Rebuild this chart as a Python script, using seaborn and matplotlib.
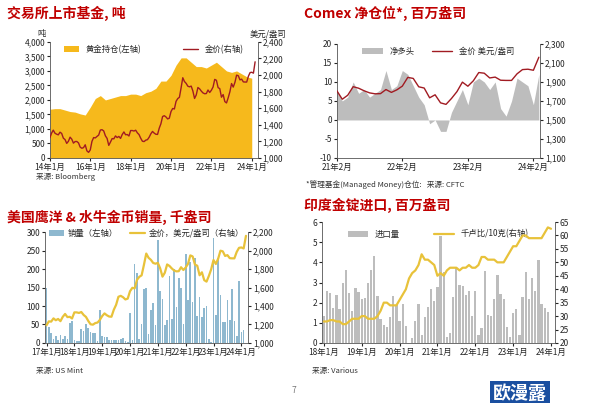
import numpy as np
import seaborn as sns
import matplotlib.pyplot as plt

sns.set_style('white')
plt.rcParams['font.family'] = ['Noto Sans CJK SC', 'DejaVu Sans']
plt.rcParams['axes.unicode_minus'] = False

RED = '#C00000'
DARKRED = '#A11B22'
GOLD = '#F6B91C'
YELLOW = '#E8C23A'
GREY = '#BDBDBD'
BLUE = '#8EB8CF'

# ---- data ----
gold_monthly = [  # 2014-01 .. 2024-03, USD/oz
    1244, 1300, 1336, 1299, 1287, 1279, 1311, 1296, 1239, 1222, 1176, 1201,
    1251, 1227, 1179, 1198, 1199, 1182, 1131, 1117, 1125, 1159, 1086, 1068,
    1097, 1200, 1246, 1242, 1260, 1276, 1337, 1341, 1326, 1267, 1236, 1152,
    1192, 1234, 1231, 1266, 1246, 1260, 1236, 1283, 1314, 1280, 1283, 1265,
    1331, 1331, 1325, 1335, 1303, 1282, 1238, 1202, 1198, 1215, 1221, 1250,
    1291, 1320, 1300, 1286, 1284, 1359, 1413, 1500, 1510, 1495, 1471, 1480,
    1560, 1597, 1591, 1683, 1716, 1732, 1846, 1968, 1922, 1900, 1866, 1858,
    1867, 1808, 1718, 1760, 1850, 1834, 1807, 1785, 1775, 1777, 1820, 1790,
    1817, 1856, 1948, 1937, 1849, 1836, 1733, 1765, 1680, 1664, 1726, 1798,
    1898, 1855, 1912, 1999, 1992, 1942, 1951, 1918, 1916, 1916, 1985, 2030,
    2034, 2023, 2160]
etf_quarterly = [  # tonnes, 2014Q1 .. 2024Q1
    1680, 1700, 1700, 1650, 1600, 1580, 1520, 1480,
    1750, 2050, 2150, 2000, 2050, 2100, 2150, 2150,
    2200, 2200, 2150, 2250, 2300, 2400, 2650, 2650,
    2850, 3200, 3450, 3450, 3300, 3150, 3150, 3100,
    3200, 3300, 3150, 3000, 2950, 3000, 2900, 2800, 2750]

comex_net_long = [  # Moz, 2021-02 .. 2024-03
    8, 5, 6, 10, 7, 8, 6, 7, 8, 13, 8,
    9, 13, 12, 9, 6, 4, -1, 0, -3, -3, 2, 5,
    8, 4, 10, 11, 10, 8, 10, 3, 1, 5, 11, 10,
    9, 4, 12]

coin_sales = [  # koz, 2017-01 .. 2024-02
    148, 42, 28, 10, 18, 8, 22, 12, 20, 12, 55, 60,
    8, 5, 5, 38, 32, 50, 40, 30, 28, 26, 5, 88,
    18, 16, 15, 8, 7, 7, 7, 8, 12, 14, 5, 2,
    80, 8, 215, 190, 12, 50, 145, 148, 25, 90, 108, 48,
    280, 140, 120, 48, 62, 180, 65, 200, 98, 175, 150, 50,
    240, 115, 220, 112, 230, 72, 125, 70, 95, 100, 10, 2,
    285, 75, 230, 130, 58, 58, 115, 62, 145, 60, 20, 168,
    30, 35]

india_imports = [  # Moz, 2018-01 .. 2023-12
    1.35, 2.6, 2.5, 1.75, 2.4, 1.7, 3.0, 3.6, 2.5, 1.6, 2.75, 2.55,
    2.2, 2.25, 3.0, 3.6, 4.3, 2.35, 1.2, 0.9, 0.8, 1.3, 2.35, 1.9,
    1.1, 1.95, 0.85, 0.02, 0.25, 1.1, 1.95, 0.4, 1.3, 1.8, 2.7, 2.1,
    2.8, 5.3, 3.5, 0.3, 0.5, 2.3, 3.75, 2.9, 2.85, 2.4, 2.6, 1.35,
    2.6, 0.4, 0.75, 3.55, 1.4, 1.35, 2.2, 3.35, 2.45, 2.2, 0.8, 0.3,
    1.5, 1.7, 0.4, 2.3, 3.5, 2.2, 3.2, 2.6, 4.1, 1.95, 1.75, 1.55]
inr_per_10g = [  # thousand INR / 10g, 2018-01 .. 2024-01
    28, 28, 28.5, 28.5, 28, 28, 27, 27, 28, 29, 29, 29,
    30, 30, 29, 29, 29, 30, 32, 35, 35, 34, 34, 34,
    36, 38, 40, 44, 46, 47, 49, 53, 51, 51, 50, 49,
    45, 46, 45, 47, 48, 48, 48, 47, 48, 48, 49, 48,
    48, 49, 52, 52, 51, 51, 51, 50, 50, 50, 52, 54,
    56, 56, 58, 60, 60, 59, 59, 59, 59, 59, 61, 63,
    62.5]

fig = plt.figure(figsize=(5.94, 4.03), dpi=100)
fig.patch.set_facecolor('white')
FS = 6


def style(ax, twin):
    for a in (ax, twin):
        for s in a.spines.values():
            s.set_visible(False)
        a.tick_params(labelsize=FS, length=2, pad=1.5)
    ax.spines['left'].set_visible(True)
    ax.spines['bottom'].set_visible(True)
    twin.spines['right'].set_visible(True)
    for s in (ax.spines['left'], ax.spines['bottom'], twin.spines['right']):
        s.set_color('#555555')
        s.set_linewidth(0.6)
    ax.tick_params(left=True, bottom=True, direction='out')
    twin.tick_params(right=True, direction='out')
    ax.set_xlabel('')
    ax.set_ylabel('')
    twin.set_xlabel('')
    twin.set_ylabel('')


def year_ticks(ax, years, fmt):
    ax.set_xticks(years)
    ax.set_xticklabels([fmt % (y % 100) for y in years])

# ---- panel 1: ETF ----
ax1 = fig.add_axes([0.084, 0.608, 0.35, 0.288])
tw1 = ax1.twinx()
xq = 2014 + np.arange(len(etf_quarterly)) / 4
ax1.fill_between(xq, etf_quarterly, color=GOLD, lw=0, label='黄金持仓(左轴)')
xm = 2014 + np.arange(len(gold_monthly)) / 12
sns.lineplot(x=xm, y=gold_monthly, ax=tw1, color=DARKRED, lw=1, label='金价(右轴)', legend=False)
ax1.set_xlim(2014, 2024.3)
ax1.set_ylim(0, 4000)
ax1.set_yticks(range(0, 4001, 500))
ax1.set_yticklabels([f'{v:,}' for v in range(0, 4001, 500)])
tw1.set_ylim(1000, 2400)
tw1.set_yticks(range(1000, 2401, 200))
tw1.set_yticklabels([f'{v:,}' for v in range(1000, 2401, 200)])
year_ticks(ax1, [2014, 2016, 2018, 2020, 2022, 2024], '%d年1月')
style(ax1, tw1)
h1, l1 = ax1.get_legend_handles_labels()
h2, l2 = tw1.get_legend_handles_labels()
ax1.legend(h1 + h2, l1 + l2, loc='upper center', ncol=2, fontsize=FS, frameon=False,
           bbox_to_anchor=(0.5, 1.04), columnspacing=5, handlelength=1.8)
ax1.text(-0.02, 1.05, '吨', transform=ax1.transAxes, fontsize=FS, ha='right')
tw1.text(1.05, 1.05, '美元/盎司', transform=tw1.transAxes, fontsize=FS, ha='center')
fig.text(0.012, 0.955, '交易所上市基金, 吨', color=RED, fontsize=10, fontweight='bold')
fig.text(0.06, 0.555, '来源: Bloomberg', fontsize=5.5, color='#333333')

# ---- panel 2: Comex ----
ax2 = fig.add_axes([0.567, 0.608, 0.342, 0.283])
tw2 = ax2.twinx()
x2 = 2021 + 1 / 12 + np.arange(len(comex_net_long)) / 12
ax2.fill_between(x2, comex_net_long, color=GREY, lw=0, label='净多头')
g2 = gold_monthly[(2021 - 2014) * 12 + 1:]
sns.lineplot(x=x2, y=g2, ax=tw2, color=DARKRED, lw=1, label='金价 美元/盎司', legend=False)
ax2.set_xlim(2021 + 1 / 12, 2024 + 2.2 / 12)
ax2.set_ylim(-10, 20)
ax2.set_yticks(range(-10, 21, 5))
tw2.set_ylim(1100, 2300)
tw2.set_yticks(range(1100, 2301, 200))
tw2.set_yticklabels([f'{v:,}' for v in range(1100, 2301, 200)])
ax2.set_xticks([2021 + 1 / 12, 2022 + 1 / 12, 2023 + 1 / 12, 2024 + 1 / 12])
ax2.set_xticklabels(['21年2月', '22年2月', '23年2月', '24年2月'])
style(ax2, tw2)
h1, l1 = ax2.get_legend_handles_labels()
h2, l2 = tw2.get_legend_handles_labels()
ax2.legend(h1 + h2, l1 + l2, loc='upper center', ncol=2, fontsize=FS, frameon=False,
           bbox_to_anchor=(0.5, 1.04), columnspacing=2, handlelength=2.5)
fig.text(0.512, 0.955, 'Comex 净仓位*, 百万盎司', color=RED, fontsize=10, fontweight='bold')
fig.text(0.515, 0.535, '*管理基金(Managed Money)仓位:   来源: CFTC', fontsize=5.5, color='#333333')

# ---- panel 3: US coins ----
ax3 = fig.add_axes([0.076, 0.149, 0.342, 0.275])
tw3 = ax3.twinx()
x3 = 2017 + np.arange(len(coin_sales)) / 12
ax3.bar(x3, coin_sales, width=0.06, color=BLUE, lw=0, label='销量（左轴）')
g3 = gold_monthly[(2017 - 2014) * 12:]
sns.lineplot(x=2017 + np.arange(len(g3)) / 12, y=g3, ax=tw3, color=YELLOW, lw=1.6,
             label='金价，美元/盎司（右轴）', legend=False)
ax3.set_xlim(2016.95, 2024.25)
ax3.set_ylim(0, 300)
ax3.set_yticks(range(0, 301, 50))
tw3.set_ylim(1000, 2200)
tw3.set_yticks(range(1000, 2201, 200))
tw3.set_yticklabels([f'{v:,}' for v in range(1000, 2201, 200)])
year_ticks(ax3, list(range(2017, 2025)), '%d年1月')
style(ax3, tw3)
h1, l1 = ax3.get_legend_handles_labels()
h2, l2 = tw3.get_legend_handles_labels()
ax3.legend(h1 + h2, l1 + l2, loc='upper center', ncol=2, fontsize=FS, frameon=False,
           bbox_to_anchor=(0.5, 1.1), columnspacing=1.5, handlelength=1.8, handletextpad=0.4)
fig.text(0.012, 0.45, '美国鹰洋 & 水牛金币销量, 千盎司', color=RED, fontsize=10, fontweight='bold')
fig.text(0.06, 0.075, '来源: US Mint', fontsize=5.5, color='#333333')

# ---- panel 4: India ----
ax4 = fig.add_axes([0.542, 0.149, 0.392, 0.30])
tw4 = ax4.twinx()
x4 = 2018 + np.arange(len(india_imports)) / 12
ax4.bar(x4, india_imports, width=0.06, color=GREY, lw=0, label='进口量')
sns.lineplot(x=2018 + np.arange(len(inr_per_10g)) / 12, y=inr_per_10g, ax=tw4, color=YELLOW,
             lw=1.6, label='千卢比/10克(右轴)', legend=False)
ax4.set_xlim(2017.95, 2024.1)
ax4.set_ylim(0, 6)
ax4.set_yticks(range(0, 7))
tw4.set_ylim(20, 65)
tw4.set_yticks(range(20, 66, 5))
year_ticks(ax4, list(range(2018, 2025)), '%d年1月')
style(ax4, tw4)
h1, l1 = ax4.get_legend_handles_labels()
h2, l2 = tw4.get_legend_handles_labels()
ax4.legend(h1 + h2, l1 + l2, loc='upper center', ncol=2, fontsize=FS, frameon=False,
           bbox_to_anchor=(0.5, 1.0), columnspacing=4, handlelength=2.5)
fig.text(0.512, 0.48, '印度金锭进口, 百万盎司', color=RED, fontsize=10, fontweight='bold')
fig.text(0.525, 0.075, '来源: Various', fontsize=5.5, color='#333333')

fig.text(0.49, 0.025, '7', fontsize=6, color='#777777')
fig.text(0.83, 0.01, '欧漫露', fontsize=13, color='white', fontweight='bold',
         bbox=dict(facecolor='#1A4FA0', edgecolor='none', pad=2))

fig.savefig('out.png', dpi=100)
